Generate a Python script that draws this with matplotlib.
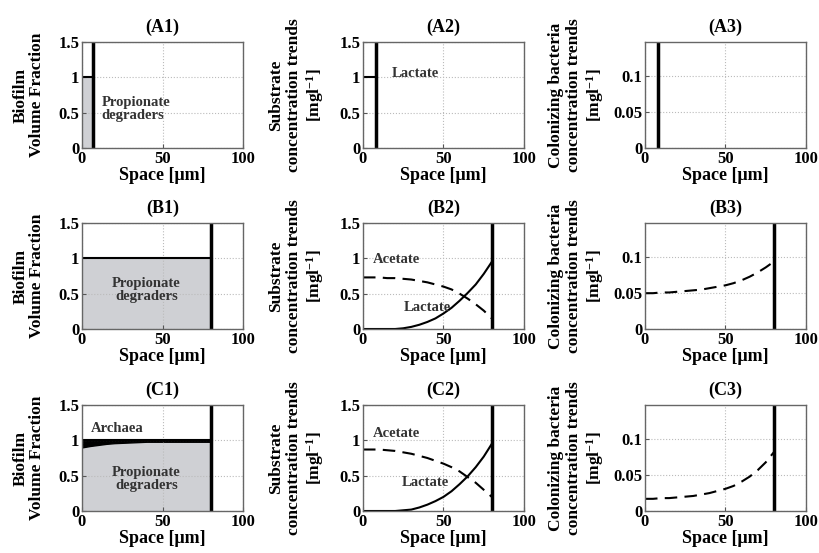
import matplotlib
matplotlib.use("Agg")
import matplotlib.pyplot as plt

plt.rcParams['font.family'] = ['Liberation Serif', 'DejaVu Serif']
plt.rcParams['font.weight'] = 'bold'
plt.rcParams['mathtext.fontset'] = 'custom'
plt.rcParams['mathtext.rm'] = 'Liberation Serif:bold'
plt.rcParams['mathtext.it'] = 'Liberation Serif:bold'

# data
space = [0, 5, 10, 15, 20, 25, 30, 35, 40, 45, 50, 55, 60, 65, 70, 75, 80]
boundary_A = 7
boundary_BC = 80

# A row (early biofilm)
space_A = [0, 7]
propionate_A = [1.0, 1.0]
lactate_A = [1.0, 1.0]

# B row
propionate_B = [1.0] * 17
acetate_B = [0.73, 0.73, 0.73, 0.72, 0.72, 0.71, 0.70, 0.68, 0.66, 0.63,
             0.60, 0.56, 0.50, 0.43, 0.35, 0.26, 0.15]
lactate_B = [0, 0, 0, 0, 0, 0.01, 0.03, 0.06, 0.10, 0.15,
             0.22, 0.30, 0.40, 0.51, 0.63, 0.78, 0.95]
colonizing_B = [0.050, 0.050, 0.051, 0.051, 0.052, 0.053, 0.054, 0.055, 0.057,
                0.059, 0.061, 0.064, 0.068, 0.073, 0.079, 0.086, 0.094]

# C row
propionate_C = [0.90, 0.92, 0.935, 0.95, 0.96, 0.965, 0.97, 0.975, 0.98,
                0.98, 0.98, 0.98, 0.98, 0.98, 0.98, 0.98, 0.98]
archaea_top_C = [1.0] * 17
acetate_C = [0.87, 0.87, 0.87, 0.86, 0.85, 0.83, 0.81, 0.78, 0.75, 0.71,
             0.67, 0.62, 0.56, 0.48, 0.40, 0.30, 0.20]
lactate_C = [0, 0, 0, 0, 0, 0.01, 0.02, 0.05, 0.09, 0.14,
             0.20, 0.28, 0.38, 0.49, 0.62, 0.77, 0.95]
colonizing_C = [0.017, 0.017, 0.018, 0.018, 0.019, 0.020, 0.021, 0.023, 0.025,
                0.028, 0.031, 0.035, 0.041, 0.048, 0.057, 0.068, 0.082]

titles = [["(A1)", "(A2)", "(A3)"], ["(B1)", "(B2)", "(B3)"], ["(C1)", "(C2)", "(C3)"]]
ylabels = ["Biofilm\nVolume Fraction",
           "Substrate\nconcentration trends\n[mgl$^{-1}$]",
           "Colonizing bacteria\nconcentration trends\n[mgl$^{-1}$]"]

W, H = 820, 553
fig = plt.figure(figsize=(W / 100, H / 100), dpi=100)

lefts = [82, 363, 645]
tops = [42, 223, 405]
aw, ah = 161, 106
fill_col = '#cfd0d4'
dash = (0, (6, 3.5))

axes = []
for r in range(3):
    row = []
    for c in range(3):
        ax = fig.add_axes([lefts[c] / W, 1 - (tops[r] + ah) / H, aw / W, ah / H])
        ax.set_xlim(0, 100)
        ax.set_xticks([0, 50, 100])
        if c < 2:
            ax.set_ylim(0, 1.5)
            ax.set_yticks([0, 0.5, 1, 1.5])
            ax.set_yticklabels(["0", "0.5", "1", "1.5"])
        else:
            ax.set_ylim(0, 0.148)
            ax.set_yticks([0, 0.05, 0.1])
            ax.set_yticklabels(["0", "0.05", "0.1"])
        ax.grid(True, linestyle=':', color='#bbbbbb', linewidth=0.8)
        ax.tick_params(direction='in', length=3, labelsize=12, pad=2, color='#555555')
        for s in ax.spines.values():
            s.set_color('#666666')
            s.set_linewidth(1.0)
        ax.set_title(titles[r][c], fontsize=13, fontweight='bold', pad=7)
        ax.set_xlabel("Space [μm]", fontsize=13, fontweight='bold', labelpad=0)
        ax.set_ylabel(ylabels[c], fontsize=12.5, fontweight='bold',
                      linespacing=1.0 if c == 0 else 1.15)
        ax.yaxis.set_label_coords(-0.23 if c < 2 else -0.24, 0.5)
        row.append(ax)
    axes.append(row)

txt = dict(fontsize=10.5, fontweight='bold', color='#333333')

# row A
ax = axes[0][0]
ax.fill_between(space_A, 0, propionate_A, color=fill_col)
ax.plot(space_A, propionate_A, color='k', lw=1.5)
ax.axvline(boundary_A, color='k', lw=2.5)
ax.text(12, 0.55, "Propionate\ndegraders", ha='left', va='center', linespacing=1.0, **txt)
ax = axes[0][1]
ax.plot(space_A, lactate_A, color='k', lw=1.5)
ax.axvline(boundary_A + 1, color='k', lw=2.5)
ax.text(18, 1.05, "Lactate", ha='left', va='center', **txt)
ax = axes[0][2]
ax.axvline(boundary_A + 1, color='k', lw=2.5)

# row B
ax = axes[1][0]
ax.fill_between(space, 0, propionate_B, color=fill_col)
ax.plot(space, propionate_B, color='k', lw=1.5)
ax.axvline(boundary_BC, color='k', lw=2.5)
ax.text(40, 0.55, "Propionate\ndegraders", ha='center', va='center', linespacing=1.0, **txt)
ax = axes[1][1]
ax.plot(space, acetate_B, color='k', lw=1.5, ls=dash)
ax.plot(space, lactate_B, color='k', lw=1.5)
ax.axvline(boundary_BC, color='k', lw=2.5)
ax.text(21, 0.99, "Acetate", ha='center', va='center', **txt)
ax.text(40, 0.30, "Lactate", ha='center', va='center', **txt)
ax = axes[1][2]
ax.plot(space, colonizing_B, color='k', lw=1.5, ls=dash)
ax.axvline(boundary_BC, color='k', lw=2.5)

# row C
ax = axes[2][0]
ax.fill_between(space, 0, propionate_C, color=fill_col)
ax.fill_between(space, propionate_C, archaea_top_C, color='k')
ax.plot(space, archaea_top_C, color='k', lw=1.5)
ax.axvline(boundary_BC, color='k', lw=2.5)
ax.text(22, 1.17, "Archaea", ha='center', va='center', **txt)
ax.text(40, 0.45, "Propionate\ndegraders", ha='center', va='center', linespacing=1.0, **txt)
ax = axes[2][1]
ax.plot(space, acetate_C, color='k', lw=1.5, ls=dash)
ax.plot(space, lactate_C, color='k', lw=1.5)
ax.axvline(boundary_BC, color='k', lw=2.5)
ax.text(21, 1.10, "Acetate", ha='center', va='center', **txt)
ax.text(39, 0.41, "Lactate", ha='center', va='center', **txt)
ax = axes[2][2]
ax.plot(space, colonizing_C, color='k', lw=1.5, ls=dash)
ax.axvline(boundary_BC, color='k', lw=2.5)

fig.savefig("out.png", dpi=100)
